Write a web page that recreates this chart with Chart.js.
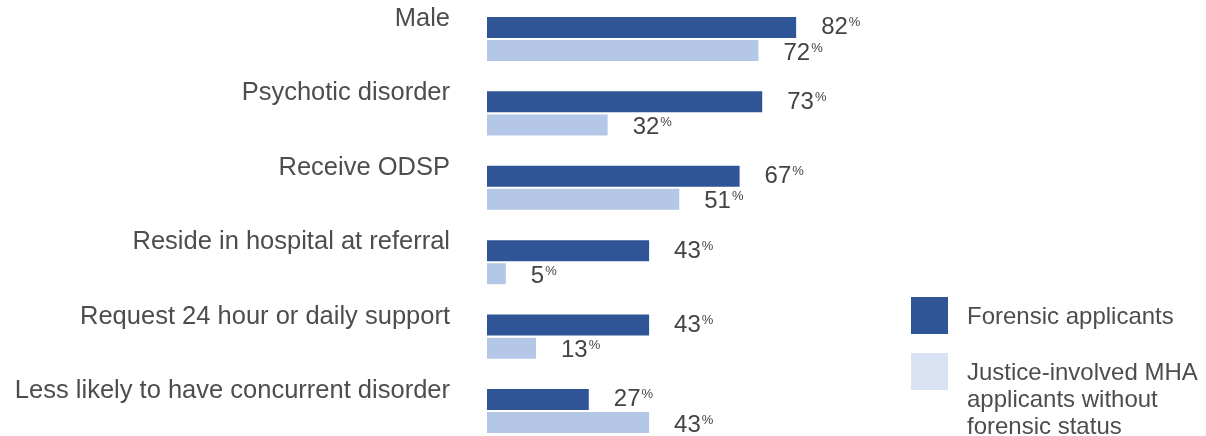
<!DOCTYPE html>
<html>
<head>
<meta charset="utf-8">
<script src="https://cdn.jsdelivr.net/npm/chart.js@4.4.1/dist/chart.umd.min.js"></script>
<style>
  body { margin: 0; background: #fff; }
  #wrap { position: relative; width: 1206px; height: 436px; }
  #legend { position: absolute; left: 911px; top: 297px; font-family: "Liberation Sans", Arial, sans-serif; font-size: 24px; color: #4d4d4d; line-height: 27px; }
  .item { position: relative; padding-left: 56px; }
  .swatch { position: absolute; left: 0; top: 0; width: 37px; height: 37px; }
</style>
</head>
<body>
<div id="wrap">
  <canvas id="myChart" width="1206" height="436"></canvas>
  <div id="legend">
    <div class="item" style="height:56px"><span class="swatch" style="background:#2f5597"></span><div style="padding-top:5px">Forensic applicants</div></div>
    <div class="item"><span class="swatch" style="background:#dae3f3"></span><div style="padding-top:5px">Justice-involved MHA<br>applicants without<br>forensic status</div></div>
  </div>
</div>
<script>
  const categories = ['Male', 'Psychotic disorder', 'Receive ODSP', 'Reside in hospital at referral', 'Request 24 hour or daily support', 'Less likely to have concurrent disorder'];
  const forensic = [82, 73, 67, 43, 43, 27];
  const justiceInvolved = [72, 32, 51, 5, 13, 43];

  // number + small raised % sign after each bar
  const valueLabels = {
    id: 'valueLabels',
    afterDatasetsDraw(chart) {
      const ctx = chart.ctx;
      ctx.save();
      ctx.fillStyle = '#444';
      ctx.textBaseline = 'alphabetic';
      chart.data.datasets.forEach((ds, di) => {
        chart.getDatasetMeta(di).data.forEach((bar, i) => {
          const txt = String(ds.data[i]);
          const x = bar.x + 25;
          const y = bar.y + 8 + (di === 0 ? -1 : 1);
          ctx.font = '24px "Liberation Sans", Arial, sans-serif';
          ctx.fillText(txt, x, y);
          const w = ctx.measureText(txt).width;
          ctx.font = '13px "Liberation Sans", Arial, sans-serif';
          ctx.fillText('%', x + w + 1, y - 8);
        });
      });
      ctx.restore();
    }
  };

  const ctx = document.getElementById('myChart');
  new Chart(ctx, {
    type: 'bar',
    data: {
      labels: categories,
      datasets: [{
        label: 'Forensic applicants',
        data: forensic,
        backgroundColor: '#2f5597',
        categoryPercentage: 0.62,
        barPercentage: 0.91,
        clip: false
      }, {
        label: 'Justice-involved MHA applicants without forensic status',
        data: justiceInvolved,
        backgroundColor: '#b4c7e7',
        categoryPercentage: 0.62,
        barPercentage: 0.91,
        clip: false
      }]
    },
    options: {
      indexAxis: 'y',
      responsive: false,
      animation: false,
      layout: {
        padding: { left: 0, right: 342, top: 39, bottom: 25 }
      },
      plugins: {
        legend: { display: false },
        tooltip: { enabled: false }
      },
      scales: {
        x: {
          display: false,
          min: 0,
          max: 100
        },
        y: {
          offset: false,
          grid: { display: false, drawTicks: false },
          border: { display: false },
          afterFit(scale) {
            scale.width = 487;
            scale.paddingTop = 0;
            scale.paddingBottom = 0;
          },
          ticks: {
            padding: 37,
            labelOffset: -20,
            color: '#4d4d4d',
            font: { family: '"Liberation Sans", Arial, sans-serif', size: 25.5 }
          }
        }
      }
    },
    plugins: [valueLabels]
  });
</script>
</body>
</html>
